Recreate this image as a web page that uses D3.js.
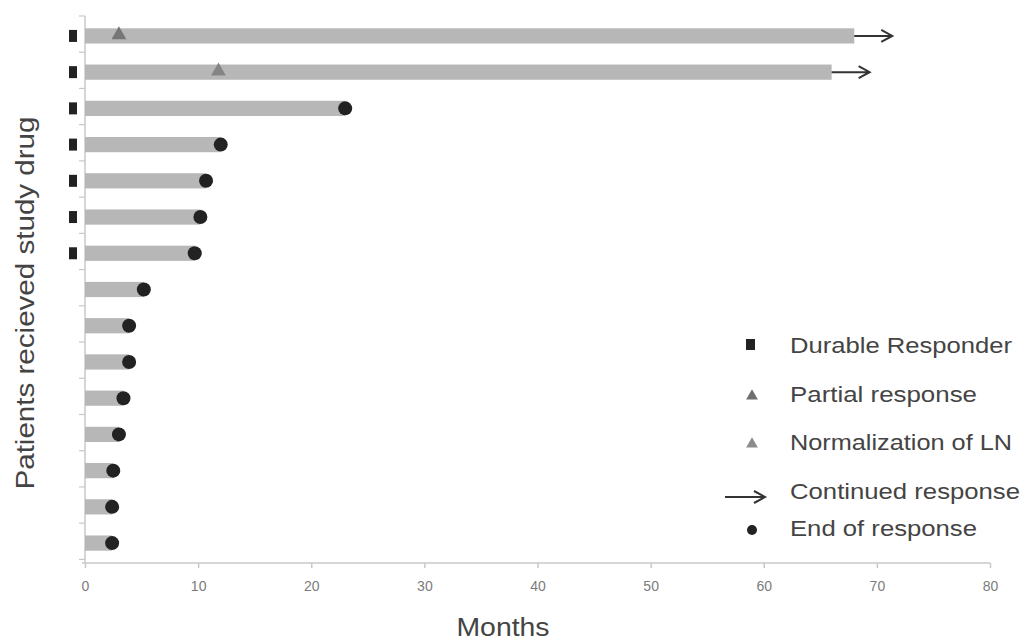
<!DOCTYPE html>
<html>
<head>
<meta charset="utf-8">
<script src="https://cdn.jsdelivr.net/npm/d3@7"></script>
<style>
  html, body { margin: 0; padding: 0; background: #fff; }
  svg { display: block; }
  text { font-family: "Liberation Sans", Arial, sans-serif; }
</style>
</head>
<body>
<svg id="chart" width="1023" height="643"></svg>
<script>
// Swimmer plot: months on study drug per patient
const patients   = [1, 2, 3, 4, 5, 6, 7, 8, 9, 10, 11, 12, 13, 14, 15];
const months     = [68, 66, 23, 12, 10.7, 10.2, 9.7, 5.2, 3.9, 3.9, 3.4, 3.0, 2.5, 2.4, 2.4];
const durable    = [1, 1, 1, 1, 1, 1, 1, 0, 0, 0, 0, 0, 0, 0, 0];
const continued  = [1, 1, 0, 0, 0, 0, 0, 0, 0, 0, 0, 0, 0, 0, 0];
const partialAt  = [{ patient: 1, month: 3 }];
const normalAt   = [{ patient: 2, month: 11.8 }];
const xTicks     = [0, 10, 20, 30, 40, 50, 60, 70, 80];
const legendItems = ["Durable Responder", "Partial response", "Normalization of LN", "Continued response", "End of response"];

const svg = d3.select("#chart");
const plotL = 85, plotR = 990, plotT = 16, plotB = 563;

const x = d3.scaleLinear().domain([0, 80]).range([plotL, plotR]);
const y = d3.scaleBand().domain(patients).range([plotT, plotB]).paddingInner(0.58).paddingOuter(0.34);
const step = y.step();

const barColor = "#b7b7b7", axisColor = "#c8c8c8", markColor = "#222";

// Axes
const xAxis = svg.append("g").attr("transform", `translate(0,${plotB})`)
  .call(d3.axisBottom(x).tickValues(xTicks).tickSize(5).tickPadding(13));
xAxis.select(".domain").attr("stroke", axisColor).attr("stroke-width", 1.5)
  .attr("d", `M${plotL - 3},0H${plotR}`);
xAxis.selectAll(".tick line").attr("stroke", axisColor).attr("stroke-width", 1.5);
xAxis.selectAll(".tick text").attr("fill", "#7c7c7c").attr("font-size", 14)
  .attr("font-family", "'Open Sans', sans-serif");

const yAxis = svg.append("g").attr("transform", `translate(${plotL},0)`)
  .call(d3.axisLeft(y).tickSize(0).tickFormat(""));
yAxis.select(".domain").attr("stroke", axisColor).attr("stroke-width", 1.5)
  .attr("d", `M0,${plotT}V${plotB}`);
// boundary ticks between patient rows
svg.append("g").selectAll("line")
  .data(d3.range(patients.length + 1))
  .join("line")
  .attr("x1", plotL - 6).attr("x2", plotL)
  .attr("y1", i => plotT + i * step).attr("y2", i => plotT + i * step)
  .attr("stroke", axisColor).attr("stroke-width", 1.2);

// Bars
svg.append("g").selectAll("rect")
  .data(patients)
  .join("rect")
  .attr("x", x(0))
  .attr("y", d => y(d))
  .attr("width", (d, i) => x(months[i]) - x(0))
  .attr("height", y.bandwidth())
  .attr("fill", barColor);

const cy = d => y(d) + y.bandwidth() / 2;

// Durable responder squares
svg.append("g").selectAll("rect")
  .data(patients.filter((d, i) => durable[i]))
  .join("rect")
  .attr("x", plotL - 16).attr("y", d => cy(d) - 6)
  .attr("width", 8).attr("height", 12)
  .attr("fill", markColor);

// End of response dots
svg.append("g").selectAll("circle")
  .data(patients.filter((d, i) => !continued[i]))
  .join("circle")
  .attr("cx", d => x(months[d - 1])).attr("cy", cy)
  .attr("r", 7).attr("fill", markColor);

// Continued response arrows
function arrowPath(x0, yy, len) {
  const x1 = x0 + len;
  return `M${x0},${yy}H${x1}M${x1 - 11},${yy - 6}L${x1},${yy}L${x1 - 11},${yy + 6}`;
}
svg.append("g").selectAll("path")
  .data(patients.filter((d, i) => continued[i]))
  .join("path")
  .attr("d", d => arrowPath(x(months[d - 1]), cy(d), 38))
  .attr("fill", "none").attr("stroke", "#333").attr("stroke-width", 2);

// Response triangles
const tri = d3.symbol().type(d3.symbolTriangle).size(95);
svg.append("g").selectAll("path")
  .data(partialAt)
  .join("path")
  .attr("transform", d => `translate(${x(d.month)},${cy(d.patient) - 1})`)
  .attr("d", tri).attr("fill", "#767676");
svg.append("g").selectAll("path")
  .data(normalAt)
  .join("path")
  .attr("transform", d => `translate(${x(d.month)},${cy(d.patient) - 1})`)
  .attr("d", tri).attr("fill", "#858585");

// Axis titles
svg.append("text")
  .attr("x", 503).attr("y", 636)
  .attr("text-anchor", "middle")
  .attr("font-size", 25).attr("fill", "#444")
  .attr("textLength", 93).attr("lengthAdjust", "spacingAndGlyphs")
  .text("Months");

svg.append("text")
  .attr("transform", "translate(34,303) rotate(-90)")
  .attr("text-anchor", "middle")
  .attr("font-size", 25).attr("fill", "#444")
  .attr("textLength", 373).attr("lengthAdjust", "spacingAndGlyphs")
  .text("Patients recieved study drug");

// Legend
const legendY = [345, 394, 442, 491, 528];
const legendW = [222, 187, 222, 230, 187];
const lg = svg.append("g");
legendItems.forEach((label, i) => {
  lg.append("text")
    .attr("x", 790).attr("y", legendY[i] + 8)
    .attr("font-size", 22).attr("fill", "#444")
    .attr("textLength", legendW[i]).attr("lengthAdjust", "spacingAndGlyphs")
    .text(label);
});
lg.append("rect").attr("x", 746).attr("y", legendY[0] - 6).attr("width", 9).attr("height", 11).attr("fill", markColor);
lg.append("path").attr("transform", `translate(752,${legendY[1] + 2})`).attr("d", d3.symbol().type(d3.symbolTriangle).size(60)).attr("fill", "#6e6e6e");
lg.append("path").attr("transform", `translate(752,${legendY[2] + 2})`).attr("d", d3.symbol().type(d3.symbolTriangle).size(60)).attr("fill", "#8c8c8c");
lg.append("path").attr("d", arrowPath(725, legendY[3] + 6, 40)).attr("fill", "none").attr("stroke", "#333").attr("stroke-width", 2);
lg.append("circle").attr("cx", 752).attr("cy", legendY[4] + 2).attr("r", 5).attr("fill", markColor);
</script>
</body>
</html>
